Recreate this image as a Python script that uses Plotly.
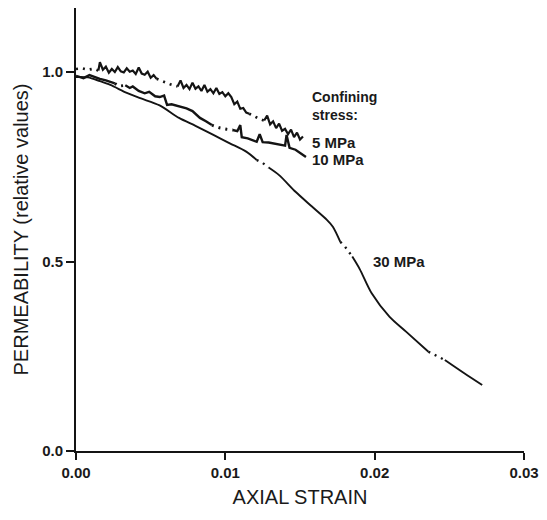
import plotly.graph_objects as go

# ---------------- data ----------------
strain_5 = [0.0000, 0.0004, 0.0008, 0.0012, 0.0015, 0.0016, 0.0018, 0.0020, 0.0022, 0.0024,
            0.0026, 0.0028, 0.0030, 0.0032, 0.0034, 0.0036, 0.0038, 0.0040, 0.0042, 0.0044,
            0.0046, 0.0048, 0.0050, 0.0052, 0.0054, 0.0058, 0.0063, 0.0068, 0.0070, 0.0072,
            0.0074, 0.0076, 0.0078, 0.0080, 0.0082, 0.0084, 0.0086, 0.0088, 0.0090, 0.0092,
            0.0094, 0.0096, 0.0098, 0.0100, 0.0102, 0.0104, 0.0106, 0.0108, 0.0110, 0.0112,
            0.0114, 0.0116, 0.0120, 0.0123, 0.0126, 0.0128, 0.0130, 0.0132, 0.0134, 0.0136,
            0.0138, 0.0140, 0.0142, 0.0144, 0.0146, 0.0148, 0.0150, 0.0152]
perm_5 = [1.008, 1.010, 1.006, 1.009, 1.004, 1.026, 1.006, 1.014, 0.998, 1.008,
          1.000, 1.013, 1.002, 0.999, 1.010, 1.001, 1.004, 0.995, 1.012, 0.996,
          0.993, 1.001, 0.985, 0.992, 0.982, 0.975, 0.968, 0.962, 0.978, 0.958,
          0.966, 0.955, 0.972, 0.956, 0.962, 0.950, 0.966, 0.948, 0.955, 0.944,
          0.958, 0.942, 0.947, 0.936, 0.944, 0.934, 0.915, 0.922, 0.903, 0.905,
          0.893, 0.890, 0.881, 0.876, 0.872, 0.885, 0.862, 0.870, 0.852, 0.864,
          0.845, 0.850, 0.836, 0.848, 0.828, 0.840, 0.822, 0.830]
dotted_5 = [(0.0000, 0.0015), (0.0054, 0.0068), (0.0116, 0.0126)]

strain_10 = [0.0000, 0.0005, 0.0009, 0.0013, 0.0016, 0.0020, 0.0023, 0.0026, 0.0029, 0.0033,
             0.0036, 0.0038, 0.0042, 0.0046, 0.0049, 0.0053, 0.0056, 0.0059, 0.0061, 0.0064,
             0.0067, 0.0070, 0.0074, 0.0078, 0.0081, 0.0083, 0.0087, 0.0091, 0.0096, 0.0101,
             0.0105, 0.0108, 0.0110, 0.0111, 0.0115, 0.0119, 0.0121, 0.0123, 0.0125, 0.0129,
             0.0134, 0.0138, 0.0140, 0.0141, 0.0143, 0.0147, 0.0151, 0.0154]
perm_10 = [0.990, 0.984, 0.992, 0.986, 0.982, 0.978, 0.974, 0.970, 0.963, 0.965,
           0.958, 0.962, 0.950, 0.944, 0.948, 0.936, 0.934, 0.938, 0.913, 0.915,
           0.912, 0.908, 0.904, 0.897, 0.886, 0.879, 0.870, 0.860, 0.853, 0.849,
           0.847, 0.844, 0.860, 0.828, 0.825, 0.818, 0.816, 0.836, 0.815, 0.814,
           0.810, 0.808, 0.806, 0.834, 0.800, 0.795, 0.785, 0.776]
dotted_10 = [(0.0026, 0.0033), (0.0091, 0.0105)]

strain_30 = [0.0000, 0.0008, 0.0016, 0.0023, 0.0034, 0.0043, 0.0056, 0.0069, 0.0080, 0.0092,
             0.0103, 0.0114, 0.0121, 0.0125, 0.0129, 0.0136, 0.0147, 0.0158, 0.0168, 0.0172,
             0.0177, 0.0180, 0.0185, 0.0190, 0.0198, 0.0210, 0.0221, 0.0236, 0.0241, 0.0247,
             0.0260, 0.0272]
perm_30 = [0.987, 0.986, 0.976, 0.966, 0.945, 0.931, 0.912, 0.879, 0.858, 0.834,
           0.812, 0.790, 0.768, 0.760, 0.748, 0.728, 0.684, 0.645, 0.610, 0.592,
           0.552, 0.540, 0.513, 0.480, 0.416, 0.354, 0.315, 0.262, 0.252, 0.240,
           0.205, 0.174]
dotted_30 = [(0.0121, 0.0129), (0.0177, 0.0185), (0.0236, 0.0247)]

x_ticks = [0.00, 0.01, 0.02, 0.03]
x_tick_labels = ["0.00", "0.01", "0.02", "0.03"]
y_ticks = [0.0, 0.5, 1.0]
y_tick_labels = ["0.0", "0.5", "1.0"]

# ---------------- helpers ----------------
def split_runs(xs, ys, spans):
    """Split a curve into solid and dotted runs (None-separated)."""
    solid_x, solid_y, dot_x, dot_y = [], [], [], []
    cur_style, run_x, run_y = None, [], []

    def flush(style, rx, ry):
        if not rx:
            return
        if style == "dot":
            dot_x.extend(rx + [None]); dot_y.extend(ry + [None])
        else:
            solid_x.extend(rx + [None]); solid_y.extend(ry + [None])

    for i in range(len(xs) - 1):
        mid = (xs[i] + xs[i + 1]) / 2
        style = "dot" if any(a <= mid <= b for a, b in spans) else "solid"
        if style != cur_style:
            flush(cur_style, run_x, run_y)
            run_x, run_y = [xs[i]], [ys[i]]
            cur_style = style
        run_x.append(xs[i + 1]); run_y.append(ys[i + 1])
    flush(cur_style, run_x, run_y)
    return solid_x, solid_y, dot_x, dot_y

LINE = "#141414"
FONT = "Liberation Sans, Arial, Helvetica, sans-serif"

fig = go.Figure()
curves = [
    ("5 MPa", strain_5, perm_5, dotted_5, 2.2, "linear"),
    ("10 MPa", strain_10, perm_10, dotted_10, 2.4, "linear"),
    ("30 MPa", strain_30, perm_30, dotted_30, 1.9, "spline"),
]
for name, xs, ys, spans, w, shape in curves:
    sx, sy, dx, dy = split_runs(xs, ys, spans)
    fig.add_trace(go.Scatter(x=sx, y=sy, mode="lines", name=name,
                             line=dict(color=LINE, width=w, shape=shape, smoothing=0.8),
                             showlegend=False))
    fig.add_trace(go.Scatter(x=dx, y=dy, mode="lines", name=name + " (dotted)",
                             line=dict(color=LINE, width=w + 0.5, dash="2px,5px"),
                             showlegend=False))

ann_font = dict(family=FONT, size=15, color="#1a1a1a", weight="bold")
small_font = dict(family=FONT, size=14, color="#1a1a1a", weight="bold")
labels = [
    ("Confining", 0.01568, 0.933, small_font),
    ("stress:", 0.01568, 0.886, small_font),
    ("5 MPa", 0.01568, 0.815, ann_font),
    ("10 MPa", 0.01568, 0.770, ann_font),
    ("30 MPa", 0.01975, 0.501, ann_font),
]
for text, ax, ay, f in labels:
    fig.add_annotation(x=ax, y=ay, text=text, showarrow=False, xanchor="left",
                       yanchor="middle", font=f)

fig.update_layout(
    width=547, height=520,
    margin=dict(l=76, r=21, t=8, b=69),
    paper_bgcolor="white", plot_bgcolor="white",
    font=dict(family=FONT, color="#1a1a1a"),
    showlegend=False,
)
fig.update_xaxes(
    range=[0, 0.03], tickvals=x_ticks, ticktext=x_tick_labels,
    showgrid=False, zeroline=False, showline=True, linecolor=LINE, linewidth=2,
    ticks="outside", ticklen=7, tickwidth=1.5, tickcolor=LINE,
    tickfont=dict(family=FONT, size=15, color="#1a1a1a", weight="bold"),
    title=dict(text="AXIAL STRAIN", font=dict(family=FONT, size=20, color="#1a1a1a"), standoff=10),
)
fig.update_yaxes(
    range=[0, 1.169], tickvals=y_ticks, ticktext=y_tick_labels,
    showgrid=False, zeroline=False, showline=True, linecolor=LINE, linewidth=2,
    ticks="outside", ticklen=8, tickwidth=1.5, tickcolor=LINE,
    tickfont=dict(family=FONT, size=15, color="#1a1a1a", weight="bold"),
    title=dict(text="PERMEABILITY (relative values)", font=dict(family=FONT, size=20, color="#1a1a1a"), standoff=8),
)

fig.write_html("out.html")
